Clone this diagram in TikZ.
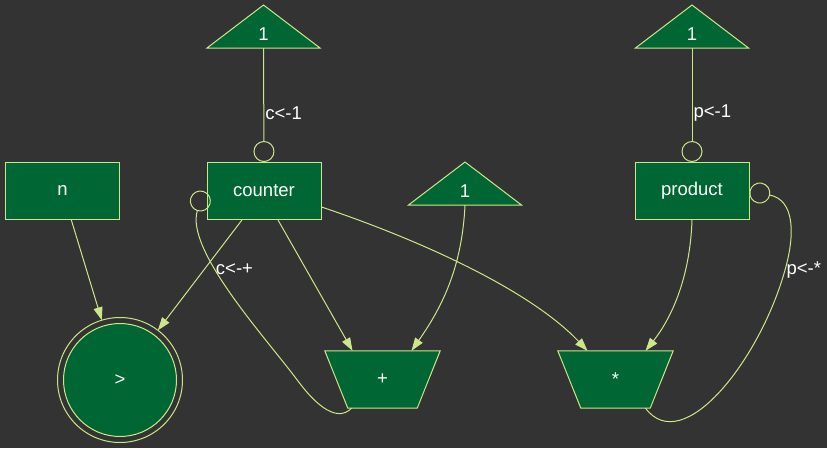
\documentclass[tikz,border=0pt]{standalone}
\usepackage{fontspec}
\setmainfont{Liberation Sans}
\usetikzlibrary{arrows.meta}
\definecolor{bgc}{HTML}{333333}
\definecolor{gfill}{HTML}{006633}
\definecolor{ec}{HTML}{CCE68A}
\pgfdeclarelayer{bglayer}
\pgfdeclarelayer{shapelayer}
\pgfsetlayers{bglayer,shapelayer,main}
\begin{document}
\begin{tikzpicture}[x=1pt,y=-1pt,
  every node/.style={text=white,font=\fontsize{18.5}{20}\selectfont},
  boxnode/.style={draw=ec,fill=gfill,line width=1pt,minimum width=114pt,minimum height=57pt,inner sep=0pt},
  shapefill/.style={draw=ec,fill=gfill,line width=1pt,line join=miter},
  edge/.style={draw=ec,line width=1pt,-{Triangle[length=13pt,width=9pt]}},
  oedge/.style={draw=ec,line width=1pt,-{Circle[open,length=21pt,width=21pt]}},
  lbl/.style={inner sep=1pt,anchor=west}]
\useasboundingbox (0,0) rectangle (827,448);
\begin{pgfonlayer}{bglayer}
  \fill[bgc] (0,0) rectangle (827,448);
\end{pgfonlayer}

% nodes
\node[boxnode] (n) at (62.5,191) {n};
\node[boxnode] (cnt) at (264,191) {counter};
\node[boxnode] (pr) at (692,191) {product};
\node[circle,draw=ec,fill=gfill,line width=1pt,minimum size=113pt,inner sep=0pt,outer sep=6pt] (gt) at (120,380) {>};
\node (t1) at (263.5,34) {1};
\node (t2) at (692,34) {1};
\node (t3) at (465,191) {1};
\node[minimum width=115pt,minimum height=57pt,inner sep=0pt] (pl) at (382.5,379.5) {+};
\node[minimum width=115pt,minimum height=57pt,inner sep=0pt] (ps) at (615.5,379.5) {*};

% shapes
\begin{pgfonlayer}{shapelayer}
  \foreach \t in {t1,t2,t3}{
    \draw[shapefill] ([shift={(0,-29)}]\t.center) -- ([shift={(56.5,14)}]\t.center) -- ([shift={(-56.5,14)}]\t.center) -- cycle;
  }
  \foreach \t in {pl,ps}{
    \draw[shapefill] (\t.north west) -- (\t.north east) -- ([xshift=-23pt]\t.south east) -- ([xshift=23pt]\t.south west) -- cycle;
  }
  \draw[ec,line width=1pt] (gt.center) circle[radius=62.5];
\end{pgfonlayer}

% edges
\draw[oedge] ([yshift=-14pt]t1.center) -- node[lbl,pos=0.57]{c<-1} (cnt.north);
\draw[oedge] ([yshift=-14pt]t2.center) -- node[lbl,pos=0.57]{p<-1} (pr.north);
\draw[edge] (n) -- (gt);
\draw[edge] (cnt) -- (gt);
\draw[edge] ([xshift=14pt]cnt.south) -- ([xshift=-30pt]pl.north);
\draw[edge] ([yshift=-16pt]cnt.east) .. controls (420,240) and (530,290) .. ([xshift=-28pt]ps.north);
\draw[edge] ([yshift=-14pt]t3.center) .. controls (462,270) and (440,310) .. ([xshift=29pt]pl.north);
\draw[edge] (pr.south) .. controls (690,280) and (670,320) .. ([xshift=30pt]ps.north);
\draw[oedge] ([xshift=-31pt]pl.south) .. controls (338,422) and (318,408) .. (298,381)
  .. controls (266,338) and (185,250) .. node[lbl,pos=0.61,xshift=-4pt]{c<-+} ([xshift=-3pt]cnt.west);
\draw[oedge] ([xshift=30pt]ps.south) .. controls (683,458) and (760,360) .. (785,270) node[lbl]{p<-*}
  .. controls (795,235) and (795,200) .. (pr.east);
\end{tikzpicture}
\end{document}
